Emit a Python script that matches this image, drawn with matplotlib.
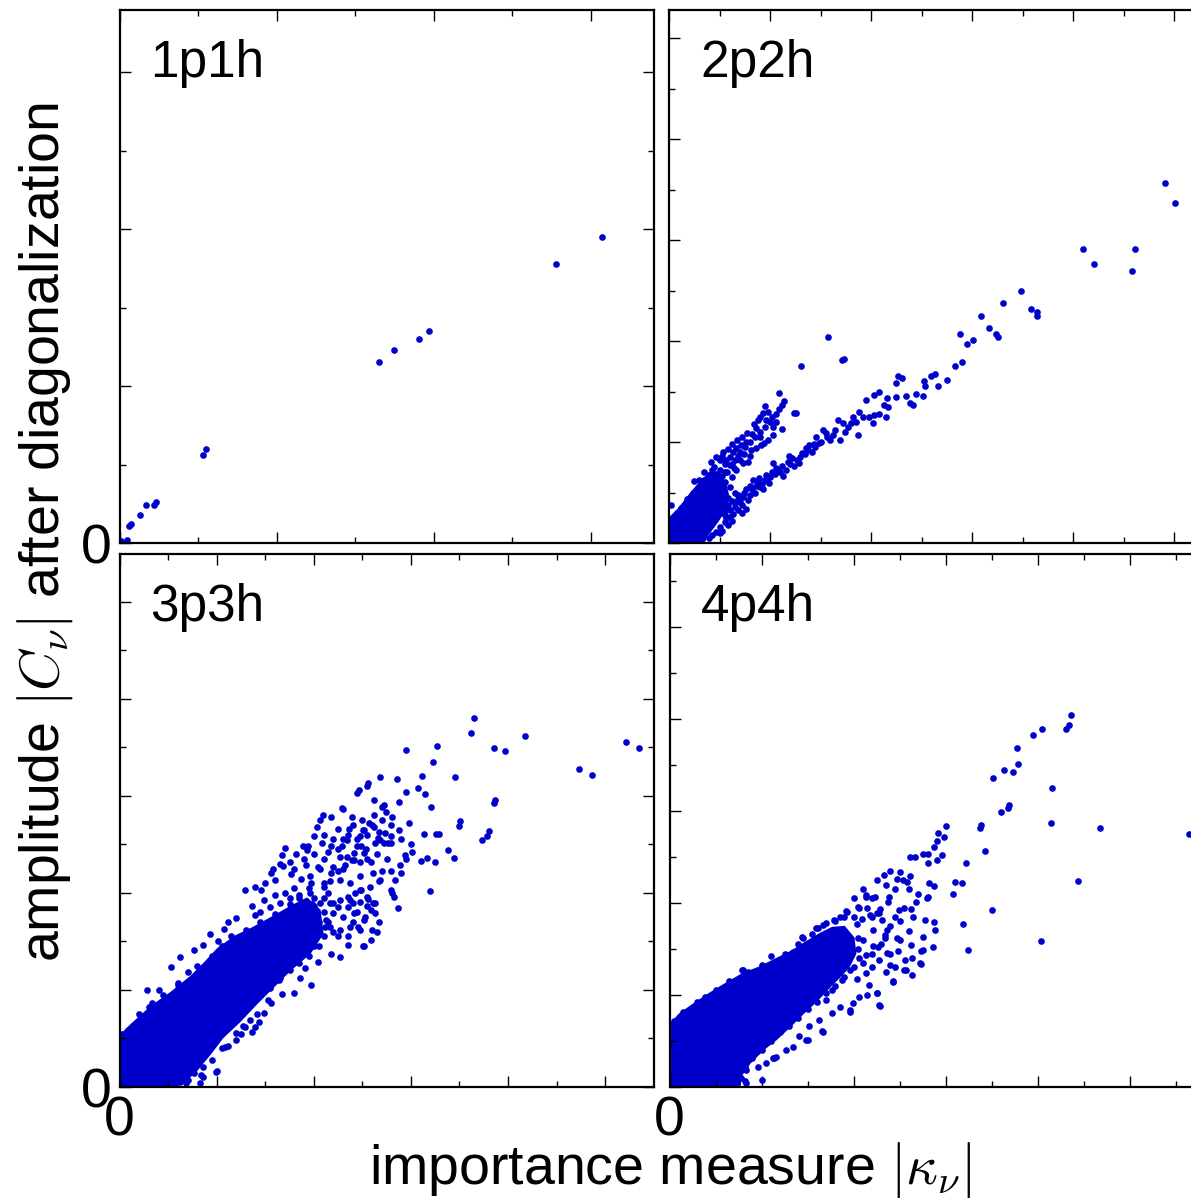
import numpy as np
import matplotlib
matplotlib.use('Agg')
import matplotlib.pyplot as plt
from matplotlib.ticker import MultipleLocator, FuncFormatter

plt.rcParams['font.family'] = ['Liberation Sans', 'DejaVu Sans']
plt.rcParams['mathtext.fontset'] = 'cm'

# values in units of one major tick (axes carry no numbers except 0)
panel_labels = ['1p1h', '2p2h', '3p3h', '4p4h']

# 1p1h
p1_pts = [(3.07, 1.95), (2.78, 1.78), (1.97, 1.35), (1.91, 1.30), (1.75, 1.23), (1.65, 1.15),
          (0.55, 0.60), (0.53, 0.56), (0.23, 0.26), (0.22, 0.24), (0.17, 0.24), (0.13, 0.18),
          (0.07, 0.12), (0.06, 0.11), (0.05, 0.02), (0.01, 0.01)]
p1_core = []

# 2p2h
p2_pts = [(4.91, 3.56), (5.01, 3.37), (4.10, 2.91), (4.21, 2.76), (4.61, 2.91), (4.58, 2.69),
          (3.49, 2.50), (3.31, 2.38), (3.58, 2.32), (3.64, 2.29), (3.64, 2.25), (3.09, 2.25),
          (3.17, 2.13), (3.24, 2.07), (3.26, 2.04), (2.88, 2.07), (2.95, 1.97), (3.01, 2.01),
          (2.90, 1.79), (2.83, 1.75), (1.57, 2.04), (1.73, 1.82), (1.71, 1.81), (1.31, 1.75),
          (2.75, 1.61), (2.66, 1.55), (2.63, 1.67), (2.59, 1.65), (2.52, 1.60), (2.53, 1.55),
          (2.51, 1.46), (2.45, 1.48), (2.42, 1.37), (2.39, 1.39), (2.35, 1.46), (2.31, 1.63),
          (2.27, 1.65), (2.25, 1.58), (2.25, 1.45), (2.16, 1.44), (2.17, 1.35), (2.15, 1.25),
          # steep branch
          (1.09, 1.49), (1.14, 1.41), (1.12, 1.37), (1.09, 1.33), (1.06, 1.28), (0.95, 1.36),
          (0.93, 1.29), (0.88, 1.22), (0.96, 1.22), (1.03, 1.15), (1.12, 1.13), (0.86, 1.14),
          (0.77, 1.09), (1.03, 1.07), (0.98, 1.02), (0.94, 0.99), (0.76, 1.00), (0.71, 0.97),
          (0.66, 0.94), (0.63, 0.90), (0.53, 0.90), (0.50, 0.82), (0.56, 0.82), (0.60, 0.77),
          (0.68, 0.86), (0.73, 0.79), (0.81, 0.92), (0.86, 0.94), (0.91, 0.97), (0.40, 0.67),
          (0.43, 0.72), (0.25, 0.61), (0.37, 0.56), (0.33, 0.49), (0.20, 0.41), (0.02, 0.38),
          (0.17, 0.31), (0.10, 0.23), (0.04, 0.15), (1.24, 1.29), (1.26, 1.29),
          (0.15, 0.35), (0.25, 0.45), (0.30, 0.55), (0.35, 0.62), (0.45, 0.75), (0.50, 0.72),
          (0.55, 0.78), (0.60, 0.85), (0.65, 0.82), (0.70, 0.90), (0.75, 0.95), (0.80, 1.00),
          (0.85, 1.05), (0.90, 1.10), (0.95, 1.15), (1.00, 1.20), (0.90, 1.05), (0.80, 0.86),
          (0.70, 0.82), (0.30, 0.62), (0.35, 0.70), (0.42, 0.80), (0.47, 0.85), (0.52, 0.86),
          (0.58, 0.93), (0.62, 0.98), (0.67, 1.02), (0.72, 1.05), (0.82, 1.08), (0.84, 1.18),
          (0.90, 1.25), (0.98, 1.30), (1.02, 1.25), (1.06, 1.20), (0.74, 0.88), (0.64, 0.74),
          (0.57, 0.70), (0.52, 0.66), (0.46, 0.68), (0.28, 0.52), (0.24, 0.50), (0.18, 0.44),
          (0.12, 0.35), (0.08, 0.30), (0.05, 0.25),
          # lower branch
          (1.52, 1.12), (1.55, 1.09), (1.46, 1.05), (1.39, 0.97), (1.36, 0.94), (1.42, 0.90),
          (1.49, 0.99), (1.59, 1.02), (1.62, 1.07), (1.69, 1.02), (1.67, 1.22), (1.72, 1.19),
          (1.77, 1.15), (1.82, 1.25), (1.88, 1.30), (1.95, 1.42), (2.03, 1.47), (2.08, 1.50),
          (1.92, 1.25), (1.98, 1.25), (2.03, 1.27), (2.02, 1.19), (1.87, 1.07), (1.80, 1.19),
          (2.08, 1.28), (2.13, 1.37), (1.19, 0.86), (1.27, 0.82), (1.24, 0.76), (1.29, 0.79),
          (1.16, 0.72), (1.13, 0.66), (1.06, 0.74), (1.03, 0.79), (0.96, 0.67), (0.89, 0.64),
          (0.83, 0.62), (0.80, 0.56), (0.76, 0.53), (0.73, 0.46), (0.78, 0.43), (0.70, 0.41),
          (0.65, 0.36), (0.63, 0.29), (0.60, 0.26), (0.55, 0.21), (0.50, 0.16), (0.76, 0.34),
          (0.86, 0.56), (0.93, 0.53), (0.99, 0.59), (0.43, 0.08), (0.30, 0.06), (0.47, 0.11),
          (0.55, 0.28), (0.60, 0.33), (0.65, 0.40), (0.70, 0.45), (0.72, 0.38), (0.80, 0.48),
          (0.85, 0.50), (0.90, 0.55), (0.95, 0.62), (1.00, 0.65), (1.05, 0.68), (1.10, 0.70),
          (1.20, 0.78), (1.30, 0.85), (1.35, 0.88), (1.45, 0.95), (1.50, 1.00), (0.40, 0.20),
          (0.45, 0.25), (0.50, 0.30), (0.35, 0.15), (0.20, 0.10), (0.15, 0.05), (0.10, 0.02),
          (0.40, 0.05), (0.50, 0.10), (0.58, 0.38), (0.62, 0.42), (0.68, 0.48), (0.74, 0.50),
          (0.82, 0.53), (0.88, 0.60), (0.92, 0.58), (0.97, 0.64), (1.02, 0.70), (1.08, 0.72),
          (1.12, 0.76), (1.18, 0.80), (1.22, 0.84), (1.32, 0.89), (1.38, 0.92), (1.44, 0.98),
          (1.56, 1.05), (1.64, 1.12), (1.74, 1.10), (1.85, 1.20), (0.68, 0.33), (0.72, 0.30),
          (0.62, 0.22), (0.58, 0.18), (0.52, 0.12), (0.56, 0.25),
          # between branches near the origin
          (0.45, 0.55), (0.50, 0.50), (0.55, 0.60), (0.60, 0.55), (0.62, 0.65), (0.55, 0.70),
          (0.48, 0.62), (0.42, 0.45), (0.50, 0.40), (0.58, 0.45), (0.65, 0.50), (0.66, 0.72),
          (0.78, 0.80), (0.62, 0.78), (0.45, 0.35), (0.40, 0.30), (0.35, 0.25), (0.38, 0.38),
          (0.55, 0.33), (0.68, 0.44)]
p2_core = [(0, 0), (0, 0.24), (0.10, 0.34), (0.20, 0.47), (0.30, 0.59), (0.40, 0.69),
           (0.49, 0.70), (0.56, 0.58), (0.59, 0.45), (0.55, 0.32), (0.47, 0.20), (0.38, 0.08),
           (0.34, 0)]

# 3p3h
p3_pts = [(5.22, 3.55), (5.35, 3.49), (4.73, 3.27), (4.86, 3.21),
          (3.65, 3.80), (3.62, 3.65), (4.18, 3.61), (3.86, 3.49), (3.97, 3.46), (2.95, 3.47),
          (3.27, 3.51), (3.23, 3.35), (3.45, 3.19), (3.11, 3.20), (3.07, 3.08), (3.15, 3.02),
          (2.86, 3.17), (2.68, 3.19), (2.56, 3.13), (2.55, 3.10), (2.45, 3.03), (2.47, 3.06),
          (2.95, 3.04), (2.88, 2.94), (2.62, 2.96), (2.72, 2.90), (2.70, 2.88), (2.74, 2.83),
          (3.21, 2.88), (2.81, 2.78), (2.80, 2.70), (2.98, 2.72), (2.88, 2.65), (3.26, 2.61),
          (3.29, 2.61), (3.13, 2.61), (3.87, 2.96), (3.86, 2.92), (3.51, 2.74), (3.50, 2.69),
          (3.80, 2.64), (3.78, 2.58), (3.73, 2.54), (3.38, 2.44), (3.44, 2.36), (3.25, 2.32),
          (3.17, 2.36), (3.10, 2.33), (3.20, 2.02), (2.87, 1.84), (3.01, 2.42), (2.94, 2.39),
          (2.89, 2.29), (2.83, 1.96), (2.81, 2.00), (2.67, 2.63), (2.66, 2.56), (2.79, 2.58),
          (2.73, 2.62), (2.62, 2.80), (2.57, 2.72), (2.52, 2.65), (2.39, 2.78), (2.30, 2.86),
          (2.29, 2.87), (2.18, 2.78), (2.09, 2.80), (2.06, 2.75), (2.03, 2.68), (2.00, 2.58),
          (1.94, 2.48), (1.89, 2.48), (1.93, 2.44), (2.62, 2.68), (2.48, 2.58), (2.34, 2.54),
          (2.25, 2.66), (2.36, 2.66), (2.51, 2.65), (2.68, 2.54), (2.79, 2.51), (2.72, 2.51),
          (2.49, 2.48), (2.41, 2.41), (2.29, 2.48), (2.18, 2.48), (2.08, 2.51), (2.27, 2.37),
          (2.34, 2.37), (2.41, 2.34), (2.48, 2.32), (2.20, 2.27), (2.06, 2.24), (1.96, 2.17),
          (2.30, 2.24), (2.48, 2.17), (2.61, 2.20), (2.70, 2.22), (2.79, 2.22), (2.84, 2.13),
          (2.68, 2.13), (2.58, 2.06), (2.48, 2.03), (2.37, 2.10), (2.27, 2.13), (2.17, 2.12),
          (2.10, 2.06), (1.96, 2.00), (2.79, 2.03), (2.67, 2.12), (2.55, 1.96), (2.48, 1.91),
          (2.37, 1.93), (2.27, 1.93), (2.17, 1.89), (2.06, 1.89), (2.00, 1.86), (2.55, 1.86),
          (2.61, 1.89), (2.63, 1.79), (2.53, 1.75), (2.41, 1.79), (2.30, 1.75), (2.20, 1.79),
          (2.13, 1.72), (2.67, 1.70), (2.60, 1.62), (2.48, 1.62), (2.37, 1.65), (2.27, 1.62),
          (2.17, 1.65), (2.03, 1.62), (2.65, 1.60),
          (2.59, 1.51), (2.51, 1.45), (2.27, 1.34), (2.18, 1.37), (2.04, 1.29), (1.97, 1.05),
          (1.80, 0.97), (1.67, 0.96), (1.64, 1.10), (1.53, 0.90), (1.42, 0.75), (1.34, 0.69),
          (1.27, 0.63), (1.20, 0.56), (1.09, 0.41), (0.99, 0.15), (0.86, 0.10), (0.83, 0.04),
          (0.68, 0.04), (0.59, 0.05), (2.00, 1.45), (1.91, 1.23), (1.86, 1.12),
          (2.44, 2.48), (2.54, 2.45), (2.63, 2.51), (2.76, 2.51), (1.67, 2.39), (1.68, 2.28),
          (1.56, 2.20), (1.60, 2.13), (1.77, 2.19), (1.87, 2.14), (1.92, 2.29), (2.04, 2.27),
          (1.97, 2.10), (2.11, 2.10), (2.18, 2.20), (2.25, 2.22), (2.32, 2.29), (2.39, 2.34),
          (2.52, 2.41), (2.59, 2.32), (2.35, 1.96), (2.42, 2.00), (2.49, 2.03), (2.56, 1.94),
          (2.63, 1.89), (2.59, 1.82), (2.52, 1.72), (2.46, 1.65), (2.52, 1.45), (2.35, 1.46),
          (1.56, 0.86), (1.49, 0.76), (1.44, 0.67), (1.39, 0.62), (1.36, 0.57), (1.29, 0.62),
          (1.25, 0.55), (1.20, 0.48), (1.12, 0.42), (1.05, 0.40), (0.95, 0.28), (0.86, 0.21),
          (0.84, 0.12), (0.77, 0.14), (1.00, 0.16), (0.70, 0.07), (0.62, 0.05), (1.29, 2.03),
          (1.39, 2.06), (1.46, 2.03), (1.60, 1.98), (1.49, 1.93), (1.36, 1.86), (1.39, 1.77),
          (1.20, 1.74), (1.12, 1.70), (1.08, 1.63), (0.93, 1.58), (1.01, 1.50), (0.86, 1.46),
          (0.77, 1.41), (0.62, 1.34), (0.53, 1.24), (0.60, 1.07), (0.41, 1.00), (0.28, 1.00),
          (0.33, 0.86), (0.19, 0.67), (0.09, 0.59), (0.02, 0.55),
          # upper edge of the dense cloud
          (0.20, 0.75), (0.30, 0.82), (0.45, 0.95), (0.60, 1.05), (0.70, 1.18), (0.80, 1.25),
          (0.95, 1.35), (1.05, 1.45), (1.15, 1.55), (1.30, 1.62), (1.45, 1.70), (1.60, 1.78),
          (1.75, 1.88), (1.85, 1.95),
          (1.45, 1.80), (1.55, 1.85), (1.65, 1.90), (1.70, 2.00), (1.80, 2.05), (1.85, 1.98),
          (1.95, 2.05), (2.00, 1.95), (2.10, 1.95), (2.15, 2.00), (2.20, 1.90), (2.25, 1.85),
          (2.35, 1.85), (2.40, 1.90), (2.45, 1.80), (2.10, 1.80), (2.15, 1.70), (2.20, 1.60),
          (2.25, 1.55), (2.35, 1.55), (2.40, 1.70), (2.05, 1.70), (1.98, 1.88), (1.75, 1.95),
          (1.50, 2.10), (1.58, 2.25), (1.65, 2.30), (1.75, 2.32), (1.82, 2.40), (1.70, 2.46),
          (1.80, 2.25), (1.90, 2.35), (2.00, 2.40), (2.10, 2.35), (2.15, 2.42), (2.25, 2.45),
          (2.30, 2.55), (2.45, 2.55), (2.55, 2.60), (2.60, 2.70), (2.70, 2.75), (2.50, 2.75),
          (2.40, 2.70), (2.35, 2.60), (2.20, 2.55), (2.10, 2.60), (2.90, 2.55), (3.00, 2.50),
          (2.95, 2.35), (2.90, 2.20), (2.75, 2.35), (2.65, 2.40), (2.55, 2.35),
          # lower edge of the dense cloud
          (0.55, 0.12), (0.65, 0.20), (0.75, 0.30), (0.85, 0.42), (0.95, 0.50), (1.05, 0.60),
          (1.15, 0.68), (1.25, 0.78), (1.35, 0.85), (1.45, 0.95), (1.55, 1.02), (1.65, 1.12),
          (1.75, 1.20), (1.85, 1.28), (1.95, 1.35), (2.05, 1.45), (2.10, 1.55), (2.12, 1.65)]
p3_core = [(0, 0), (0, 0.52), (0.12, 0.64), (0.33, 0.83), (0.53, 0.97), (0.74, 1.14),
           (0.88, 1.28), (1.01, 1.42), (1.19, 1.55), (1.36, 1.63), (1.56, 1.74), (1.77, 1.86),
           (1.93, 1.94), (2.06, 1.82), (2.09, 1.58), (1.96, 1.38), (1.75, 1.20), (1.58, 1.03),
           (1.41, 0.86), (1.24, 0.68), (1.06, 0.51), (0.93, 0.34), (0.79, 0.17), (0.66, 0.05),
           (0.55, 0)]

# 4p4h
p4_pts = [(5.65, 2.75),
          (4.36, 4.04), (4.31, 3.89), (4.34, 3.94), (4.05, 3.89), (3.95, 3.83), (3.78, 3.69),
          (3.79, 3.51), (3.64, 3.45), (3.73, 3.42), (3.52, 3.36), (4.16, 3.25), (3.69, 3.06),
          (3.68, 3.03), (3.60, 2.99), (4.15, 2.87), (4.68, 2.82), (3.39, 2.85), (3.37, 2.82),
          (3.43, 2.57), (3.22, 2.44), (3.18, 2.22), (3.10, 2.23), (3.08, 2.10), (4.44, 2.24),
          (3.50, 1.92), (3.19, 1.77), (3.00, 2.84), (2.92, 2.76), (2.98, 2.72), (2.91, 2.67),
          (2.87, 2.61), (2.75, 2.53), (2.67, 2.50), (2.61, 2.50), (2.81, 2.53), (2.81, 2.43),
          (2.96, 2.52), (2.91, 2.47), (2.51, 2.34), (2.47, 2.26), (2.54, 2.25), (2.58, 2.23),
          (2.33, 2.30), (2.61, 2.29), (2.82, 2.22), (2.87, 2.18), (2.81, 2.07), (2.80, 2.05),
          (2.68, 2.01), (2.49, 1.92), (2.63, 1.94), (2.39, 2.07), (2.38, 2.01), (2.29, 1.94),
          (2.25, 1.89), (2.18, 1.87), (2.14, 2.07), (2.23, 2.07), (2.09, 1.83), (2.78, 1.82),
          (2.76, 1.63), (2.89, 1.71), (2.88, 1.79), (2.51, 1.80), (2.36, 1.71), (2.31, 1.82),
          (2.34, 1.62), (2.47, 1.62),
          (3.24, 1.49), (4.04, 1.59), (2.86, 1.52), (2.73, 1.48), (2.72, 1.35), (2.63, 1.54),
          (2.64, 1.22), (2.56, 1.38), (2.55, 1.27), (2.48, 1.48), (2.43, 1.14), (2.40, 1.33),
          (2.29, 0.88), (2.25, 1.02), (2.36, 1.46), (2.27, 1.52), (2.04, 1.17), (2.15, 1.00),
          (1.96, 0.82), (1.66, 0.61), (1.50, 0.51), (1.14, 0.32), (1.01, 0.08), (0.82, 0.06),
          (0.11, 0.76), (0.39, 0.98), (0.79, 1.27), (1.05, 1.27), (1.44, 1.63), (1.61, 1.73),
          (1.85, 1.85), (2.04, 1.77), (1.93, 1.90), (2.06, 1.95),
          (2.14, 2.09), (2.28, 1.89), (2.21, 1.71), (2.34, 1.65), (2.75, 1.49), (2.73, 1.34),
          (2.64, 1.40), (2.57, 1.27), (2.43, 1.15), (2.28, 0.89), (2.26, 1.02),
          (2.17, 1.11), (2.14, 1.24), (2.06, 0.98), (1.99, 0.91), (1.96, 0.84), (1.85, 0.87),
          (1.77, 0.80), (1.67, 0.60), (1.63, 0.73), (1.52, 0.66), (1.48, 0.51), (1.41, 0.55),
          (1.34, 0.44), (1.27, 0.40), (1.16, 0.33), (1.05, 0.26), (1.12, 0.31),
          (0.96, 0.22), (0.83, 0.19), (0.83, 0.04), (2.14, 1.44), (2.21, 1.53), (2.28, 1.38),
          (0.42, 0.96), (0.80, 1.27), (1.23, 1.38), (1.34, 1.47), (1.45, 1.62),
          (1.59, 1.73), (1.67, 1.76), (1.79, 1.82), (1.92, 1.91), (2.05, 1.96), (1.85, 1.71),
          (1.94, 1.58), (1.77, 1.63), (2.06, 1.40), (1.96, 1.27), (1.87, 1.16), (1.77, 1.05),
          (1.70, 0.95),
          # upper edge of the dense cloud
          (0.05, 0.72), (0.15, 0.82), (0.30, 0.92), (0.50, 1.05), (0.65, 1.15), (0.85, 1.25),
          (1.00, 1.33), (1.10, 1.42), (1.25, 1.45), (1.40, 1.55), (1.55, 1.66), (1.70, 1.78),
          (1.80, 1.80), (1.90, 1.85), (2.00, 1.85),
          # lower edge of the dense cloud
          (0.78, 0.10), (0.82, 0.22), (0.90, 0.32), (1.00, 0.40), (1.10, 0.50), (1.20, 0.60),
          (1.30, 0.66), (1.40, 0.75), (1.50, 0.85), (1.60, 0.92), (1.70, 1.02), (1.80, 1.10),
          (1.90, 1.20), (2.00, 1.30), (2.05, 1.50), (2.05, 1.62),
          # right of the dense cloud
          (2.10, 1.60), (2.20, 1.45), (2.30, 1.55), (2.40, 1.45), (2.45, 1.30), (2.35, 1.25),
          (2.20, 1.30), (2.10, 1.35), (2.50, 1.60), (2.60, 1.70), (2.65, 1.85), (2.55, 1.95),
          (2.45, 1.85), (2.40, 1.75), (2.20, 1.85), (2.15, 1.95), (2.70, 2.10), (2.60, 2.15),
          (2.45, 2.15), (2.35, 2.20), (2.25, 2.25), (2.40, 2.35), (2.20, 2.05), (2.00, 2.05),
          (2.10, 2.15)]
p4_core = [(0, 0), (0, 0.65), (0.02, 0.69), (0.11, 0.79), (0.25, 0.89), (0.43, 1.01),
           (0.61, 1.12), (0.80, 1.23), (0.98, 1.30), (1.16, 1.39), (1.34, 1.48), (1.48, 1.57),
           (1.63, 1.66), (1.77, 1.73), (1.90, 1.74), (2.00, 1.62), (2.02, 1.45), (1.95, 1.31),
           (1.88, 1.23), (1.74, 1.09), (1.60, 0.94), (1.45, 0.80), (1.31, 0.66), (1.16, 0.52),
           (1.02, 0.41), (0.87, 0.26), (0.78, 0.13), (0.76, 0)]

BLUE = '#0000cc'
W, H = 1191, 1198

# panel frames in pixels: left, top, width, height, and one major tick in pixels
frames = [(119.6, 9.5, 534, 533.5, 157.0),
          (669.0, 9.5, 535, 533.5, 101.0),
          (119.6, 554.0, 534, 533.0, 97.1),
          (669.5, 554.0, 535, 533.0, 92.0)]
all_pts = [p1_pts, p2_pts, p3_pts, p4_pts]
all_core = [p1_core, p2_core, p3_core, p4_core]

fig = plt.figure(figsize=(W / 100, H / 100), dpi=100)
zero_only = FuncFormatter(lambda v, p: '0' if abs(v) < 1e-9 else '')

for i, (l, t, w, h, major) in enumerate(frames):
    ax = fig.add_axes([l / W, 1 - (t + h) / H, w / W, h / H])
    core = all_core[i]
    if core:
        cx, cy = np.array(core).T
        ax.fill(cx, cy, color=BLUE, lw=1.5, ec=BLUE)
    px, py = np.array(all_pts[i]).T
    ax.plot(px, py, 'o', ms=4.8, color=BLUE, mec='none')
    ax.set_xlim(0, w / major)
    ax.set_ylim(0, h / major)
    for axis in (ax.xaxis, ax.yaxis):
        axis.set_major_locator(MultipleLocator(1))
        axis.set_minor_locator(MultipleLocator(0.5))
        axis.set_major_formatter(zero_only)
    ax.tick_params(which='both', direction='in', top=True, right=True, width=1.0,
                   labelsize=40, pad=6)
    ax.tick_params(which='major', length=8)
    ax.tick_params(which='minor', length=4)
    ax.tick_params(labelbottom=(i >= 2), labelleft=(i % 2 == 0))
    for s in ax.spines.values():
        s.set_linewidth(1.6)
    ax.text(0.058, 0.874, panel_labels[i], transform=ax.transAxes, fontsize=37,
            ha='left', va='baseline')

fig.text(670 / W, 1 - 1183 / H, r'importance measure $|\kappa_\nu|$', fontsize=40,
         ha='center', va='baseline')
fig.text(45 / W, 1 - 532 / H, r'amplitude $|C_\nu|$ after diagonalization', fontsize=40,
         rotation=90, ha='center', va='center')

fig.savefig('out.png', dpi=100)
